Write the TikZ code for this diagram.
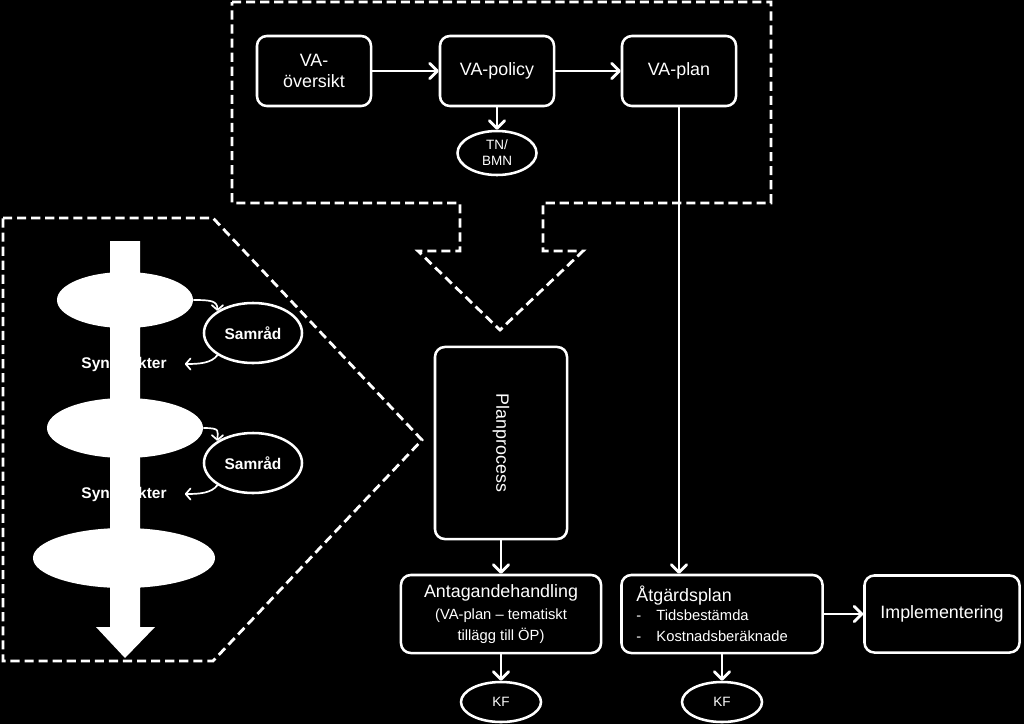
\documentclass[tikz,border=0pt]{standalone}
\usepackage{fontspec}
\setmainfont{Liberation Sans}
\usetikzlibrary{shapes.geometric}
\usetikzlibrary{arrows.meta}

\newcommand{\labelfont}{\fontsize{12.7}{15}\selectfont}
\newcommand{\notefont}{\fontsize{10.5}{13.8}\selectfont}
\newcommand{\tinyfont}{\fontsize{9.6}{11.5}\selectfont}
\newcommand{\boldfont}{\fontsize{11}{13}\selectfont\bfseries}

\begin{document}
\begin{tikzpicture}[x=0.025cm, y=-0.025cm,
		box/.style={draw=white, line width=1.8pt, rounded corners=7pt, text=white, align=center, font=\labelfont, inner sep=2pt},
		oval/.style={ellipse, draw=white, line width=1.8pt, text=white, align=center, font=\tinyfont, inner sep=0pt},
		stage/.style={ellipse, fill=white, inner sep=0pt},
		flow/.style={white, line width=2pt, -{Straight Barb[length=5.5pt,width=11pt,round]}},
		feedback/.style={white, line width=1.2pt, -{Straight Barb[length=3.5pt,width=8pt,round]}},
		dashframe/.style={white, line width=2pt, dash pattern=on 6.5pt off 3.5pt}]
		\useasboundingbox (0,0) rectangle (1024,724);
		\fill[black] (0,0) rectangle (1024,724);
		
		% frames
		\draw[dashframe] (232,2) -- (771,2) -- (771,203) -- (543,203) -- (543,251) -- (583,251) -- (500,330) -- (418,251) -- (460,251) -- (460,203) -- (232,203) -- cycle;
		\draw[dashframe] (3,218) -- (213,218) -- (422,440) -- (213,661) -- (3,661) -- cycle;
		
		% planning stages
		\fill[white] (110,241) -- (140,241) -- (140,627) -- (155,627) -- (125,658) -- (96,627) -- (110,627) -- cycle;
		\node[stage, minimum width=3.4cm, minimum height=1.4cm] (st1) at (125,300) {};
		\node[stage, minimum width=3.9cm, minimum height=1.5cm] (st2) at (125,428) {};
		\node[stage, minimum width=4.55cm, minimum height=1.5cm] (st3) at (124,558) {};
		\node[oval, font=\boldfont, minimum width=2.45cm, minimum height=1.5cm] (sam1) at (253,333) {Samråd};
		\node[oval, font=\boldfont, minimum width=2.45cm, minimum height=1.5cm] (sam2) at (253,463) {Samråd};
		\node[text=white, font=\boldfont, inner sep=0pt] (syn1) at (124,364) {Synpunkter};
		\node[text=white, font=\boldfont, inner sep=0pt] (syn2) at (124,494) {Synpunkter};
		\draw[feedback] (st1.east) .. controls +(18,0) and +(0,-10) .. (sam1.north west);
		\draw[feedback] (sam1.south west) .. controls +(-6,8) and +(15,0) .. ([xshift=0.45cm]syn1.east);
		\draw[feedback] (st2.east) .. controls +(18,0) and +(0,-10) .. (sam2.north west);
		\draw[feedback] (sam2.south west) .. controls +(-6,8) and +(15,0) .. ([xshift=0.45cm]syn2.east);
		
		% VA-plan work
		\node[box, minimum width=2.85cm, minimum height=1.75cm] (oversikt) at (314,71) {VA-\\översikt};
		\node[box, minimum width=2.85cm, minimum height=1.75cm] (policy) at (497,71) {VA-policy};
		\node[box, minimum width=2.85cm, minimum height=1.75cm] (plan) at (679,71) {VA-plan};
		\node[oval, minimum width=1.975cm, minimum height=1.1cm] (tnbmn) at (497,153) {TN/\\BMN};
		
		\node[box, rotate=-90, minimum width=4.8cm, minimum height=3.3cm] (process) at (501,443) {Planprocess};
		\node[box, minimum width=5cm, minimum height=1.95cm] (antagande) at (501,614) {Antagandehandling\\[1pt]\notefont (VA-plan – tematiskt\\\notefont tillägg till ÖP)};
		\node[box, align=left, text width=4.275cm, inner xsep=0.375cm, minimum height=1.95cm] (atgard) at (722,614) {Åtgärdsplan\\\notefont\makebox[0.5cm][l]{-}Tidsbestämda\\\notefont\makebox[0.5cm][l]{-}Kostnadsberäknade};
		\node[box, minimum width=3.875cm, minimum height=1.925cm] (impl) at (942,614) {Implementering};
		\node[oval, minimum width=2cm, minimum height=1cm] (kf1) at (501,702) {KF};
		\node[oval, minimum width=2cm, minimum height=1cm] (kf2) at (722,702) {KF};
		
		\draw[flow] (oversikt) -- (policy);
		\draw[flow] (policy) -- (plan);
		\draw[flow] (policy) -- (tnbmn);
		\draw[flow] (plan) -- (plan |- atgard.north);
		\draw[flow] (process) -- (antagande);
		\draw[flow] (antagande) -- (kf1);
		\draw[flow] (atgard) -- (kf2);
		\draw[flow] (atgard) -- (impl);
	\end{tikzpicture}
\end{document}
